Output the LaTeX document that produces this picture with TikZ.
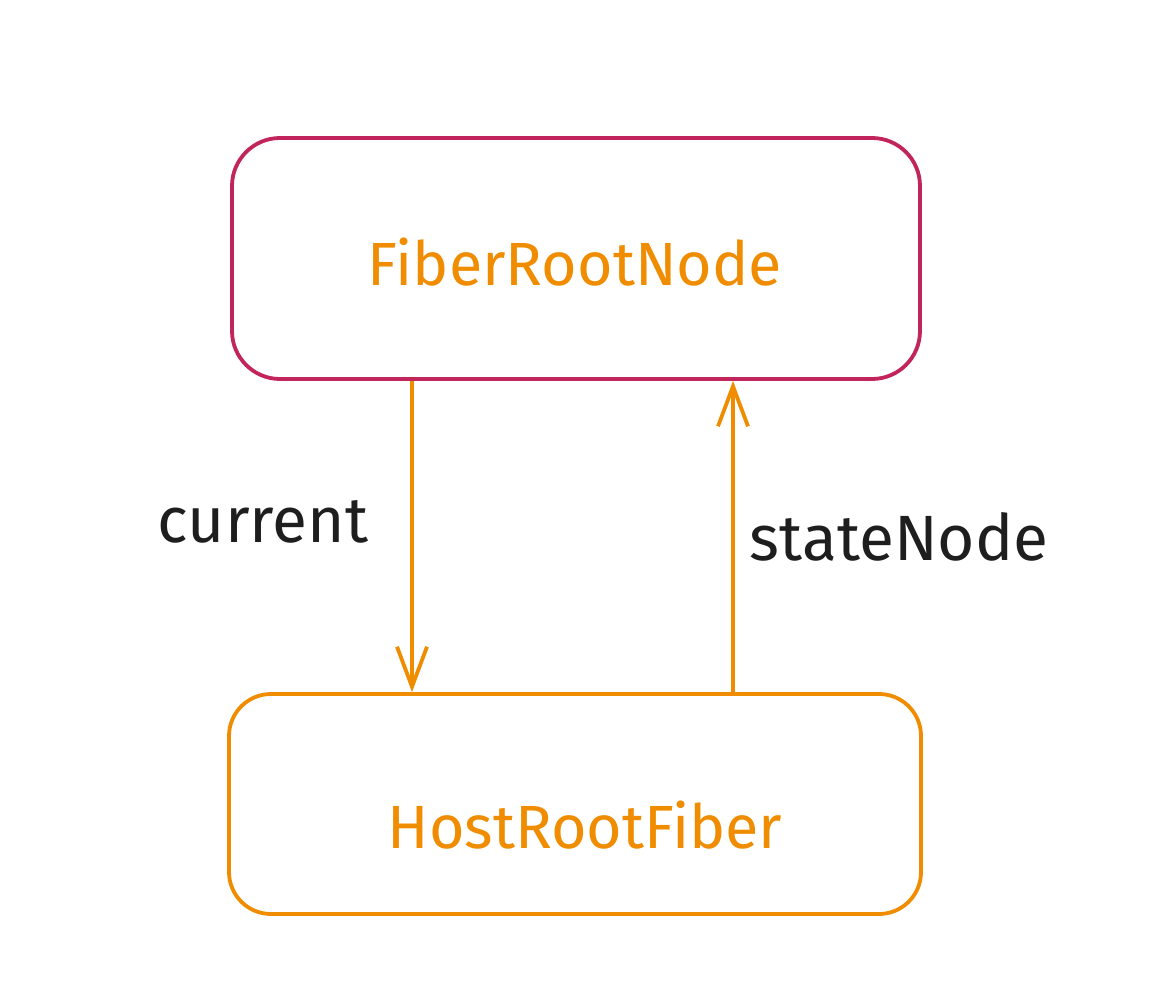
\documentclass[tikz,border=0pt]{standalone}
\usepackage{fontspec}
\setmainfont{Fira Sans}
\usetikzlibrary{arrows.meta}
\definecolor{crim}{HTML}{C2255C}
\definecolor{orng}{HTML}{F08C00}
\definecolor{ink}{HTML}{1E1E1E}
\begin{document}
\begin{tikzpicture}[x=1pt,y=-1pt,
  box/.style={draw, line width=3.8pt, rounded corners=48pt, fill=white, inner sep=0pt},
  boxtext/.style={text=orng, font=\fontsize{61}{73}\selectfont},
  lbl/.style={text=ink, font=\fontsize{64}{76}\selectfont},
  link/.style={draw=orng, line width=3.8pt, -{Straight Barb[length=40pt,width=30pt,line width=3.8pt]}}]
\useasboundingbox[fill=white] (0,0) rectangle (1160,1000);
\node[box, draw=crim, minimum width=688pt, minimum height=241pt] (top) at (576,258.5) {};
\node[boxtext] (toptext) at (575,262) {FiberRootNode};
\node[box, draw=orng, rounded corners=42pt, minimum width=692pt, minimum height=220pt] (bot) at (575,804) {};
\node[boxtext] (bottext) at (585,825) {HostRootFiber};
\coordinate (ax) at (412,0);
\coordinate (bx) at (733,0);
\draw[link] (top.south -| ax) -- (bot.north -| ax);
\draw[link] (bot.north -| bx) -- (top.south -| bx);
\node[lbl] (cur) at (263,522) {current};
\node[lbl] (sn) at (899,537) {stateNode};
\end{tikzpicture}
\end{document}
